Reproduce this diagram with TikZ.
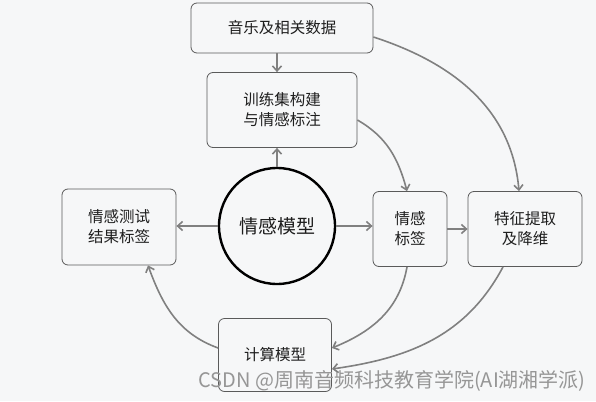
\documentclass[tikz,border=0pt]{standalone}
\usepackage{fontspec}
\setmainfont{Noto Sans CJK SC}
\usetikzlibrary{arrows.meta}
\definecolor{linkgray}{RGB}{128,128,128}
\definecolor{boxgray}{RGB}{90,90,90}
\definecolor{inkgray}{RGB}{30,30,30}
\definecolor{paper}{RGB}{246,247,248}
\tikzset{>={Straight Barb[length=5pt,width=9pt]}}
\tikzset{box/.style={draw=boxgray, line width=0.8pt, rounded corners=6pt, fill=paper,
    align=center, text=inkgray, font=\fontsize{15.5}{20}\selectfont, inner sep=0pt}}
\tikzset{hub/.style={draw=black, circle, line width=2.4pt, minimum size=116pt, fill=paper,
    text=inkgray, font=\fontsize{19}{22}\selectfont, inner sep=0pt}}
\tikzset{link/.style={draw=linkgray, line width=1.6pt, ->}}

\begin{document}
\begin{tikzpicture}[x=1pt, y=1pt]
\useasboundingbox[fill=paper] (0,0) rectangle (596,-401);

\node[box, minimum width=182pt, minimum height=50pt] (data) at (282,-28) {音乐及相关数据};
\node[box, minimum width=150pt, minimum height=75pt] (train) at (282,-110) {训练集构建\\与情感标注};
\node[hub] (model) at (277,-226) {情感模型};
\node[box, minimum width=114pt, minimum height=76pt] (test) at (119,-227) {情感测试\\结果标签};
\node[box, minimum width=74pt, minimum height=75pt] (label) at (410,-229) {情感\\标签};
\node[box, minimum width=114pt, minimum height=75pt] (feat) at (525,-229) {特征提取\\及降维};
\node[box, minimum width=113pt, minimum height=73pt] (calc) at (275,-355) {计算模型};

\draw[link] (data.south -| model.north) -- (train.north -| model.north);
\draw[link] (model.north) -- (model.north |- train.south);
\draw[link] (model.west) -- (model.west -| test.east);
\draw[link] (model.east) -- (model.east -| label.west);
\draw[link] (label.east) -- (label.east -| feat.west);

\draw[link] ([yshift=-9pt]data.east) to[out=-18, in=95] ([xshift=-6pt]feat.north);
\draw[link] ([yshift=-10pt]train.east) to[out=-30, in=105] ([xshift=-3pt]label.north);
\draw[link] ([xshift=-3pt]label.south) to[out=-100, in=22] ([yshift=7pt]calc.east);
\draw[link] ([xshift=-22pt]feat.south) to[out=-118, in=8] ([yshift=-14pt]calc.east);
\draw[link] ([yshift=7pt]calc.west) to[out=160, in=-70] ([xshift=29pt]test.south);

\node[text={rgb,255:red,150;green,150;blue,150}, font=\fontsize{20}{22}\selectfont] (mark) at (392,-381) {CSDN @周南音频科技教育学院(AI湖湘学派)};
\end{tikzpicture}
\end{document}
